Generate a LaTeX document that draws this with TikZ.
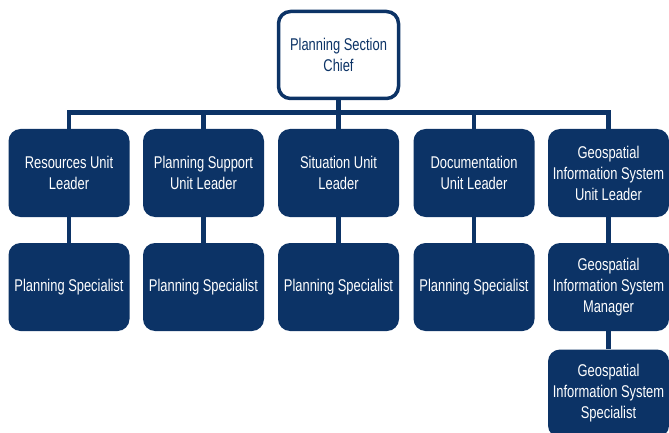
\documentclass[tikz,border=0pt]{standalone}
\usepackage{fontspec}
\usepackage{tikz}
\newfontfamily\boxfont[FakeStretch=0.76]{Liberation Sans}
\definecolor{navy}{RGB}{12,51,102}

\begin{document}
\begin{tikzpicture}[x=1pt, y=-1pt,
		unit/.style = {rectangle, rounded corners = 12pt, fill = navy, text = white,
			minimum width = 121pt, minimum height = 88pt, inner sep = 0pt,
			align = center, font = \boxfont\fontsize{17}{21}\selectfont},
		chiefbox/.style = {unit, fill = white, draw = navy, text = navy, line width = 3.5pt,
			minimum width = 120pt, minimum height = 87pt},
		link/.style = {draw = navy, line width = 4.5pt}]
			\def\xa{69};
			\def\xb{203.5};
			\def\xc{338.5};
			\def\xd{474};
			\def\xe{608.5};
			\def\ya{173};
			\def\yb{287};
			\def\yc{393.5};

			\useasboundingbox (0,0) rectangle (669,433);

			\node [chiefbox] (chief) at (338.5,55) {Planning Section\\Chief};

			\node [unit] (resources) at (\xa,\ya) {Resources Unit\\Leader};
			\node [unit] (support) at (\xb,\ya) {Planning Support\\Unit Leader};
			\node [unit] (situation) at (\xc,\ya) {Situation Unit\\Leader};
			\node [unit] (documentation) at (\xd,\ya) {Documentation\\Unit Leader};
			\node [unit] (gisleader) at (\xe,\ya) {Geospatial\\Information System\\Unit Leader};

			\node [unit] (resspec) at (\xa,\yb) {Planning Specialist};
			\node [unit] (supspec) at (\xb,\yb) {Planning Specialist};
			\node [unit] (sitspec) at (\xc,\yb) {Planning Specialist};
			\node [unit] (docspec) at (\xd,\yb) {Planning Specialist};
			\node [unit] (gismanager) at (\xe,\yb) {Geospatial\\Information System\\Manager};
			\node [unit] (gisspec) at (\xe,\yc) {Geospatial\\Information System\\Specialist};

			\coordinate (bar) at (0,112.5);

			\begin{scope}[link]
				\draw (chief.south) -- (chief.south |- bar);
				\draw [line cap = rect] (resources.north |- bar) -- (gisleader.north |- bar);
				\draw (resources.north |- bar) -- (resources.north);
				\draw (support.north |- bar) -- (support.north);
				\draw (situation.north |- bar) -- (situation.north);
				\draw (documentation.north |- bar) -- (documentation.north);
				\draw (gisleader.north |- bar) -- (gisleader.north);

				\draw (resources) -- (resspec);
				\draw (support) -- (supspec);
				\draw (situation) -- (sitspec);
				\draw (documentation) -- (docspec);
				\draw (gisleader) -- (gismanager);
				\draw (gismanager) -- (gisspec);
			\end{scope}
		\end{tikzpicture}
\end{document}
